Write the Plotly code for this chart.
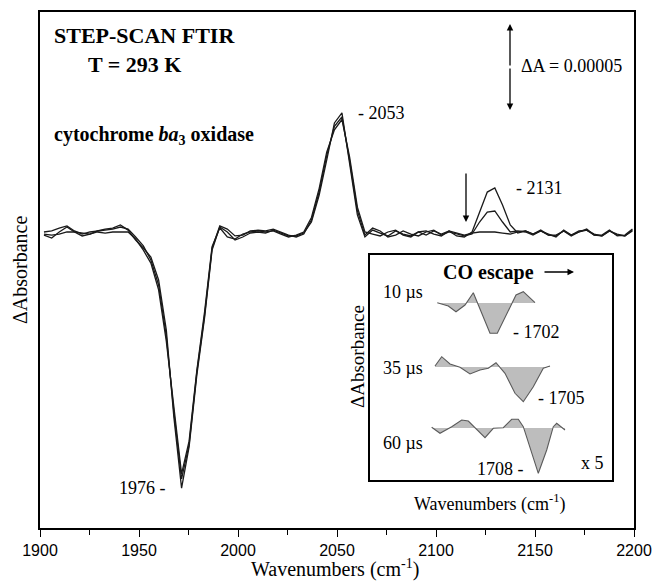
import plotly.graph_objects as go

# ---------------- main spectra data (ΔA in units of 1e-5) ----------------
wavenumber = [1902.0, 1905.9, 1909.7, 1913.6, 1917.4, 1921.3, 1925.2, 1929.0, 1932.9, 1936.7,
              1940.6, 1944.5, 1948.3, 1952.2, 1956.0, 1959.9, 1963.8, 1967.6, 1971.5, 1975.3,
              1979.2, 1983.1, 1986.9, 1990.8, 1994.6, 1998.5, 2002.4, 2006.2, 2010.1, 2013.9,
              2017.8, 2021.7, 2025.5, 2029.4, 2033.2, 2037.1, 2041.0, 2044.8, 2048.7, 2052.5,
              2056.4, 2060.3, 2064.1, 2068.0, 2071.8, 2075.7, 2079.6, 2083.4, 2087.3, 2091.1,
              2095.0, 2098.9, 2102.7, 2106.6, 2110.4, 2114.3, 2118.2, 2122.0, 2125.9, 2129.7,
              2133.6, 2137.5, 2141.3, 2145.2, 2149.0, 2152.9, 2156.8, 2160.6, 2164.5, 2168.3,
              2172.2, 2176.1, 2179.9, 2183.8, 2187.6, 2191.5, 2195.4, 2199.2]

spec_10us = [-0.12, -0.29, 0.06, 0.35, 0.06, -0.17, -0.06, 0.12, 0.23, 0.29,
             0.47, 0.17, -0.41, -0.87, -1.40, -2.73, -5.64, -10.7, -14.83, -12.44,
             -8.26, -4.94, -0.99, 0.35, 0.06, -0.41, -0.23, 0.0, 0.06, 0.0,
             0.17, 0.0, -0.17, -0.17, 0.0, 0.64, 2.21, 4.24, 6.40, 6.98,
             3.95, 1.05, -0.23, 0.17, 0.0, -0.17, 0.12, -0.06, -0.17, 0.06,
             -0.12, 0.12, -0.06, 0.12, -0.17, -0.23, 0.06, 1.16, 2.38, 2.62,
             1.63, 0.47, 0.0, 0.12, -0.06, 0.17, -0.12, -0.17, 0.12, -0.17,
             0.06, 0.17, -0.06, -0.17, 0.12, -0.12, -0.17, 0.12]

spec_35us = [0.06, 0.12, 0.29, 0.41, 0.12, -0.06, 0.06, 0.12, 0.17, 0.23,
             0.35, 0.23, -0.23, -0.75, -1.57, -3.02, -6.0, -10.4, -14.3, -12.3,
             -8.1, -4.8, -0.9, 0.41, 0.23, -0.17, -0.12, 0.12, 0.17, 0.12,
             0.23, 0.06, -0.12, -0.23, -0.06, 0.75, 2.4, 4.5, 6.2, 6.75,
             4.2, 1.3, -0.12, 0.29, 0.12, -0.23, -0.12, 0.12, -0.06, -0.17,
             0.06, 0.17, -0.12, 0.06, -0.06, -0.17, -0.06, 0.64, 1.22, 1.28,
             0.64, 0.06, 0.12, 0.06, -0.12, 0.12, -0.06, -0.23, 0.17, -0.12,
             0.06, 0.23, -0.12, -0.12, 0.17, -0.17, -0.12, 0.23]

spec_60us = [-0.06, -0.12, -0.06, 0.06, 0.06, 0.0, -0.06, 0.06, 0.0, 0.06,
             0.06, 0.06, -0.35, -1.0, -1.75, -3.3, -6.3, -10.1, -14.0, -12.1,
             -8.0, -4.6, -0.8, 0.3, -0.23, -0.35, -0.06, 0.06, 0.12, 0.06,
             0.12, -0.06, -0.23, -0.12, 0.06, 0.9, 2.6, 4.7, 6.0, 6.6,
             4.4, 1.5, 0.06, -0.06, -0.17, 0.06, 0.17, -0.12, -0.23, 0.06,
             0.12, -0.06, -0.17, 0.12, 0.0, -0.12, 0.0, 0.06, 0.06, 0.06,
             0.0, -0.06, 0.06, 0.12, -0.06, 0.12, -0.12, -0.12, 0.12, -0.12,
             0.12, 0.17, -0.12, -0.17, 0.12, -0.06, -0.17, 0.17]

x_ticks = [1900, 1950, 2000, 2050, 2100, 2150, 2200]

# ---------------- inset data (arbitrary units, difference spectra x5) ----------------
inset_labels = ["10 µs", "35 µs", "60 µs"]
inset_x_10 = [67.3, 78.3, 86.0, 95.0, 103.3, 120.0, 127.3, 146.0, 153.3, 165.0]
inset_y_10 = [0.3, -3.0, -8.7, -2.0, 10.3, -30.3, -30.3, 8.0, 11.3, 0.3]
inset_x_35 = [65.0, 71.7, 80.0, 90.0, 100.0, 110.0, 118.3, 126.0, 135.0, 145.0, 153.3, 163.3, 173.3, 180.0]
inset_y_35 = [1.0, 10.3, 3.0, -0.3, -7.0, -3.0, -1.3, 4.3, -6.3, -26.3, -34.7, -19.7, -1.3, 1.0]
inset_x_60 = [61.7, 70.0, 81.7, 91.7, 98.3, 106.7, 115.0, 123.3, 133.3, 141.7, 148.3, 153.3,
              168.3, 176.7, 183.3, 186.7, 195.0]
inset_y_60 = [0.7, -5.3, 1.3, 8.0, 7.0, -1.3, -9.7, -0.3, 0.3, 8.7, 8.7, 1.3,
              -45.3, -22.0, 1.3, 4.7, -2.0]
peak_labels = ["- 1702", "- 1705", "1708 -"]

# ---------------- layout helpers (pixel -> paper) ----------------
W, H = 652, 582
L, R, T, B = 40, 634, 12, 528


def px(x):
    return (x - L) / (R - L)


def py(y):
    return (B - y) / (B - T)


SERIF = "Liberation Serif, Times New Roman, serif"
SANS = "Liberation Sans, Arial, sans-serif"

fig = go.Figure()

for ys in (spec_10us, spec_35us, spec_60us):
    fig.add_trace(go.Scatter(x=wavenumber, y=ys, mode="lines",
                             line=dict(color="#1a1a1a", width=1.3),
                             showlegend=False, hoverinfo="skip"))

# inset traces
offsets = [177, 113, 52]
for xs, ys, off in ((inset_x_10, inset_y_10, offsets[0]),
                    (inset_x_35, inset_y_35, offsets[1]),
                    (inset_x_60, inset_y_60, offsets[2])):
    fig.add_trace(go.Scatter(x=[xs[0], xs[-1]], y=[off, off], mode="lines",
                             line=dict(width=0, color="rgba(0,0,0,0)"),
                             xaxis="x2", yaxis="y2", showlegend=False, hoverinfo="skip"))
    fig.add_trace(go.Scatter(x=xs, y=[off + v for v in ys], mode="lines",
                             line=dict(color="#5a5a5a", width=1.1),
                             fill="tonexty", fillcolor="#bdbdbd",
                             xaxis="x2", yaxis="y2", showlegend=False, hoverinfo="skip"))

fig.update_layout(
    width=W, height=H,
    margin=dict(l=L, r=W - R, t=T, b=H - B, autoexpand=False),
    paper_bgcolor="white", plot_bgcolor="white",
    xaxis=dict(range=[1900, 2200], tickvals=x_ticks, ticktext=[str(v) for v in x_ticks],
               ticks="outside", ticklen=7, tickwidth=1.3, tickcolor="black",
               ticklabeloverflow="allow", automargin=False,
               minor=dict(dtick=25, ticks="outside", ticklen=5, tickwidth=1.2, tickcolor="black"),
               showline=True, linecolor="black", linewidth=1.5, mirror=True,
               showgrid=False, zeroline=False,
               tickfont=dict(family=SANS, size=16, color="black")),
    yaxis=dict(range=[-17.15, 12.85], showticklabels=False, ticks="",
               showline=True, linecolor="black", linewidth=1.5, mirror=True,
               showgrid=False, zeroline=False),
    xaxis2=dict(domain=[px(370), px(612)], anchor="y2", range=[0, 242],
                showticklabels=False, ticks="", showgrid=False, zeroline=False,
                showline=True, linecolor="black", linewidth=1.5, mirror=True),
    yaxis2=dict(domain=[py(480), py(255)], anchor="x2", range=[0, 225],
                showticklabels=False, ticks="", showgrid=False, zeroline=False,
                showline=True, linecolor="black", linewidth=1.5, mirror=True),
)

ann = []


def text(x, y, s, size, bold=False, anchor="left", angle=0, family=SERIF, yanchor="middle"):
    if bold:
        s = "<b>" + s + "</b>"
    ann.append(dict(x=px(x), y=py(y), xref="paper", yref="paper", text=s,
                    showarrow=False, xanchor=anchor, yanchor=yanchor, textangle=angle,
                    font=dict(family=family, size=size, color="black")))


def arrow(xh, yh, xt, yt):
    ann.append(dict(x=px(xh), y=py(yh), xref="paper", yref="paper", text="",
                    showarrow=True, arrowhead=2, arrowsize=1, arrowwidth=1.3,
                    arrowcolor="black", ax=xt - xh, ay=yt - yh, axref="pixel", ayref="pixel"))


text(52, 36, "STEP-SCAN FTIR", 22, bold=True)
text(86, 65, "T = 293 K", 22, bold=True)
text(52, 135, "cytochrome <i>ba</i><sub>3</sub> oxidase", 20, bold=True)
text(519, 66, "ΔA = 0.00005", 18)
text(356, 113, "- 2053", 18)
text(514, 188, "- 2131", 18)
text(168, 488, "1976 -", 18, anchor="right")
text(335, 583, "Wavenumbers (cm<sup>-1</sup>)", 20, anchor="center", yanchor="bottom")
text(20, 270, "ΔAbsorbance", 20, anchor="center", angle=-90)

# scale bar double arrow
arrow(510, 24, 510, 67)
arrow(510, 110, 510, 67)
# arrow at 2131 region
arrow(466, 222, 466, 172)

# inset texts
text(488, 272, "CO escape", 20, bold=True, anchor="center")
arrow(574, 272, 543, 272)
text(381, 292, inset_labels[0], 18)
text(381, 368, inset_labels[1], 18)
text(381, 443, inset_labels[2], 18)
text(511, 332, peak_labels[0], 18)
text(536, 398, peak_labels[1], 18)
text(526, 469, peak_labels[2], 18, anchor="right")
text(579, 463, "x 5", 18)
text(490, 503, "Wavenumbers (cm<sup>-1</sup>)", 18, anchor="center")
text(357, 357, "ΔAbsorbance", 19, anchor="center", angle=-90)

fig.update_layout(annotations=ann)
fig.write_html("out.html", config={"displayModeBar": False},
               post_script="document.body.style.margin='0';document.documentElement.style.overflow='hidden';")
